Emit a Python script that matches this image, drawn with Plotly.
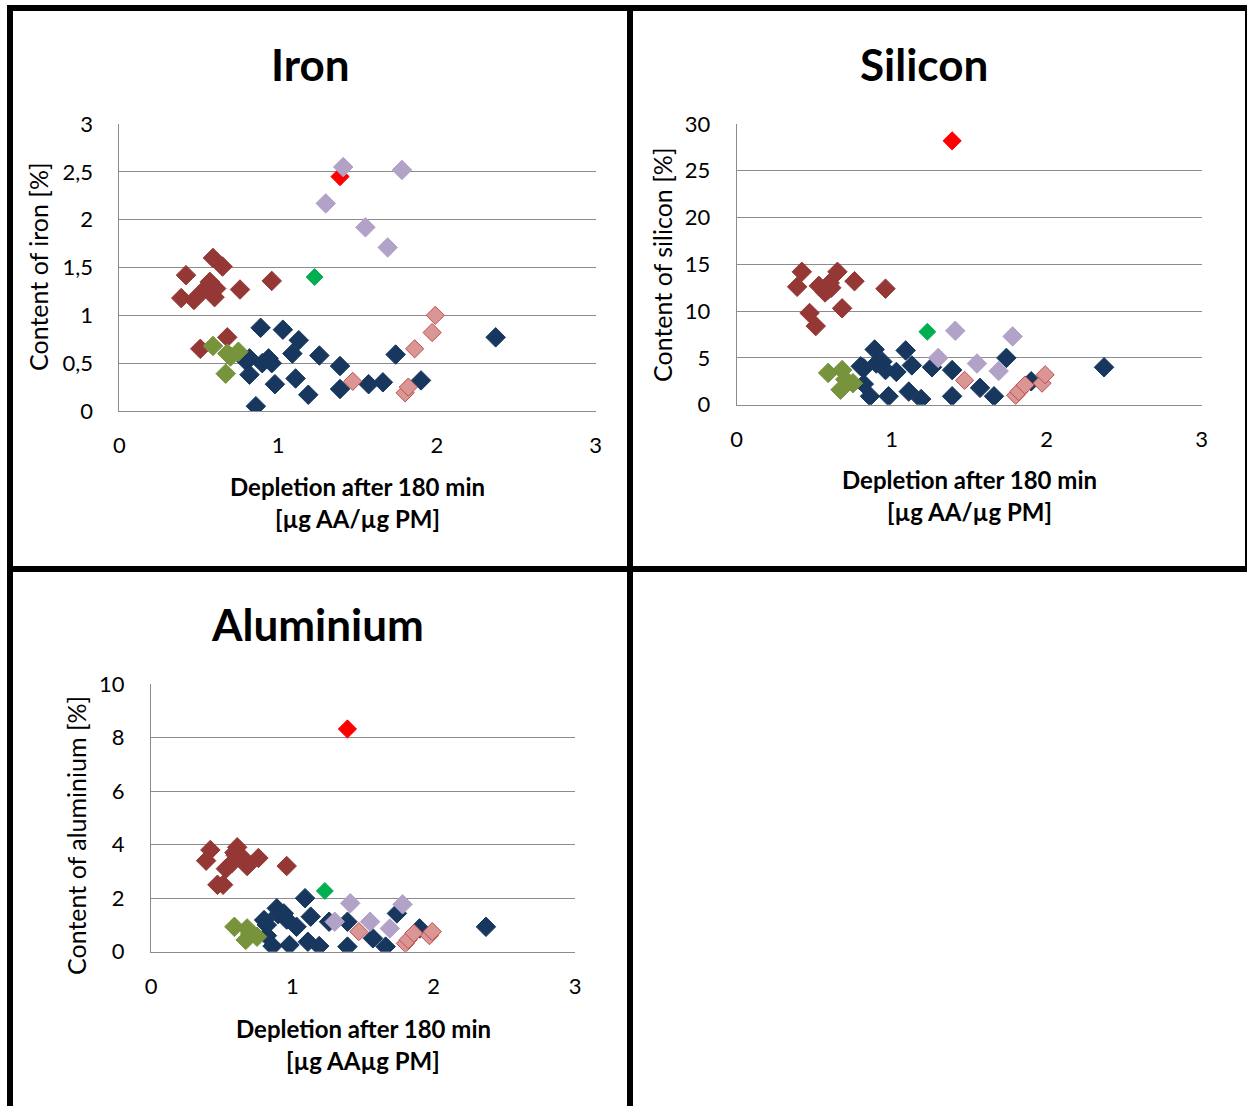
import plotly.graph_objects as go

W, H = 1247, 1106
FONT = "Lato"

# ---- axis ticks -------------------------------------------------------------
x_ticks = [0, 1, 2, 3]
x_tick_text = ["0", "1", "2", "3"]
fe_ticks = [0, 0.5, 1, 1.5, 2, 2.5, 3]
fe_tick_text = ["0", "0,5", "1", "1,5", "2", "2,5", "3"]
si_ticks = [0, 5, 10, 15, 20, 25, 30]
si_tick_text = ["0", "5", "10", "15", "20", "25", "30"]
al_ticks = [0, 2, 4, 6, 8, 10]
al_tick_text = ["0", "2", "4", "6", "8", "10"]

# ---- sample groups: depletion after 180 min and element content [%] ----------
navy_depl = [0.80, 0.82, 0.82, 0.86, 0.89, 0.90, 0.94, 0.96, 0.98, 1.03, 1.09,
             1.11, 1.13, 1.19, 1.26, 1.39, 1.39, 1.57, 1.66, 1.74, 1.90, 2.37]
navy_fe = [0.52, 0.55, 0.38, 0.05, 0.87, 0.50, 0.55, 0.50, 0.28, 0.85, 0.60,
           0.34, 0.74, 0.17, 0.58, 0.47, 0.23, 0.28, 0.30, 0.59, 0.32, 0.77]
navy_si = [4.1, 3.9, 2.2, 0.9, 5.9, 4.4, 4.6, 3.7, 0.9, 3.5, 5.8,
           1.4, 4.2, 0.6, 4.0, 3.7, 0.9, 1.8, 0.9, 5.0, 2.5, 4.0]
navy_al = [1.18, 1.00, 0.60, 0.21, 1.62, 1.40, 1.43, 1.20, 0.25, 0.93, 2.00,
           0.37, 1.31, 0.21, 1.12, 1.12, 0.19, 0.50, 0.19, 1.43, 0.87, 0.93]

brown_depl = [0.39, 0.42, 0.47, 0.51, 0.53, 0.57, 0.59, 0.60, 0.61, 0.65, 0.68, 0.76, 0.96]
brown_fe = [1.18, 1.42, 1.16, 0.65, 1.26, 1.35, 1.60, 1.19, 1.28, 1.51, 0.77, 1.27, 1.36]
brown_si = [12.6, 14.2, 9.8, 8.4, 12.7, 12.0, 12.3, 13.0, 12.5, 14.2, 10.3, 13.2, 12.4]
brown_al = [3.4, 3.8, 2.5, 2.5, 3.1, 3.3, 3.7, 3.6, 3.9, 3.5, 3.2, 3.5, 3.2]

olive_depl = [0.59, 0.67, 0.68, 0.70, 0.75]
olive_fe = [0.68, 0.39, 0.60, 0.57, 0.62]
olive_si = [3.4, 1.6, 3.7, 2.7, 2.3]
olive_al = [0.93, 0.44, 0.87, 0.68, 0.56]

pink_depl = [1.47, 1.80, 1.82, 1.86, 1.97, 1.99]
pink_fe = [0.31, 0.19, 0.25, 0.65, 0.82, 1.00]
pink_si = [2.6, 1.0, 1.4, 2.1, 2.3, 3.2]
pink_al = [0.75, 0.31, 0.45, 0.69, 0.60, 0.75]

red_depl = [1.39]
red_fe = [2.45]
red_si = [28.2]
red_al = [8.32]

lilac_depl = [1.30, 1.41, 1.55, 1.69, 1.78]
lilac_fe = [2.17, 2.55, 1.92, 1.71, 2.52]
lilac_si = [5.0, 7.9, 4.4, 3.6, 7.3]
lilac_al = [1.12, 1.81, 1.12, 0.87, 1.77]

green_depl = [1.23]
green_fe = [1.40]
green_si = [7.8]
green_al = [2.27]

groups = [
    # depletion, (fe, si, al), fill, outline, size
    (navy_depl, (navy_fe, navy_si, navy_al), "#17375E", "#17375E", 15),
    (brown_depl, (brown_fe, brown_si, brown_al), "#953735", "#953735", 15),
    (olive_depl, (olive_fe, olive_si, olive_al), "#77933C", "#77933C", 15),
    (pink_depl, (pink_fe, pink_si, pink_al), "#D99694", "#C0504D", 14),
    (red_depl, (red_fe, red_si, red_al), "#FF0000", "#FF0000", 14),
    (lilac_depl, (lilac_fe, lilac_si, lilac_al), "#B3A2C7", "#B3A2C7", 15),
    (green_depl, (green_fe, green_si, green_al), "#00B050", "#00B050", 13),
]


def fx(p):
    return p / W


def fy(p):
    return 1 - p / H


# plot areas in pixels: (left, right, top, bottom)
panels = [
    ("x", "y", (119.3, 595.7, 124, 411), fe_ticks, fe_tick_text, 3),
    ("x2", "y2", (736.7, 1201.7, 124, 404.7), si_ticks, si_tick_text, 30),
    ("x3", "y3", (151, 575, 684, 951.7), al_ticks, al_tick_text, 10),
]

fig = go.Figure()

for depl, contents, fill, edge, size in groups:
    for k, (xa, ya, _, _, _, _) in enumerate(panels):
        fig.add_trace(go.Scatter(
            x=depl, y=contents[k], xaxis=xa, yaxis=ya, mode="markers",
            marker=dict(symbol="diamond", size=size, color=fill,
                        line=dict(color=edge, width=1)),
            showlegend=False, hoverinfo="x+y",
        ))

grid = "#8C8C8C"
tickfont = dict(family=FONT, size=22, color="#000000")
layout_axes = {}
for k, (xa, ya, (l, r, t, b), yt, ytt, ymax) in enumerate(panels):
    xname = "xaxis" if k == 0 else f"xaxis{k + 1}"
    yname = "yaxis" if k == 0 else f"yaxis{k + 1}"
    layout_axes[xname] = dict(
        domain=[fx(l), fx(r)], range=[0, 3], anchor=ya, automargin=False,
        tickvals=x_ticks, ticktext=x_tick_text, tickfont=tickfont,
        showgrid=False, zeroline=False, showline=True, linecolor=grid,
        linewidth=1, ticks="", ticklabelstandoff=15, fixedrange=True,
    )
    layout_axes[yname] = dict(
        domain=[fy(b), fy(t)], range=[0, ymax], anchor=xa, automargin=False,
        tickvals=yt, ticktext=ytt, tickfont=tickfont,
        showgrid=True, gridcolor=grid, gridwidth=1, zeroline=False,
        showline=True, linecolor=grid, linewidth=1, ticks="",
        ticklabelstandoff=21, fixedrange=True,
    )

# chart titles and axis titles
texts = [
    ("<b>Iron</b>", 310, 64, 44, 0),
    ("<b>Silicon</b>", 924, 64, 44, 0),
    ("<b>Aluminium</b>", 317, 624, 44, 0),
    ("<b>Depletion after 180 min</b>", 357, 486, 24, 0),
    ("<b>[µg AA/µg PM]</b>", 357, 518, 24, 0),
    ("<b>Depletion after 180 min</b>", 969, 480, 24, 0),
    ("<b>[µg AA/µg PM]</b>", 969, 512, 24, 0),
    ("<b>Depletion after 180 min</b>", 363, 1028, 24, 0),
    ("<b>[µg AAµg PM]</b>", 363, 1060, 24, 0),
    ("Content of iron [%]", 38, 267, 25, -90),
    ("Content of silicon [%]", 662, 265, 25, -90),
    ("Content of aluminium [%]", 76, 836, 25, -90),
]
annotations = [
    dict(text=t, x=fx(x), y=fy(y), xref="paper", yref="paper",
         xanchor="center", yanchor="middle", showarrow=False, textangle=a,
         font=dict(family=FONT, size=s, color="#000000"))
    for t, x, y, s, a in texts
]

# black frame lines separating the chart cells (pixel rectangles)
frame = [
    (7, 1247, 5, 11),
    (7, 13, 5, 1106),
    (627, 633, 5, 1106),
    (7, 1247, 566, 572),
    (1245, 1247, 5, 572),
]
shapes = [
    dict(type="rect", xref="paper", yref="paper", x0=fx(x0), x1=fx(x1),
         y0=fy(y1), y1=fy(y0), fillcolor="#000000", line=dict(width=0),
         layer="above")
    for x0, x1, y0, y1 in frame
]

fig.update_layout(
    width=W, height=H, margin=dict(l=0, r=0, t=0, b=0, pad=0, autoexpand=False),
    paper_bgcolor="#FFFFFF", plot_bgcolor="#FFFFFF",
    showlegend=False, annotations=annotations, shapes=shapes,
    font=dict(family=FONT),
    **layout_axes,
)

fig.write_html("out.html", config={"displayModeBar": False})
